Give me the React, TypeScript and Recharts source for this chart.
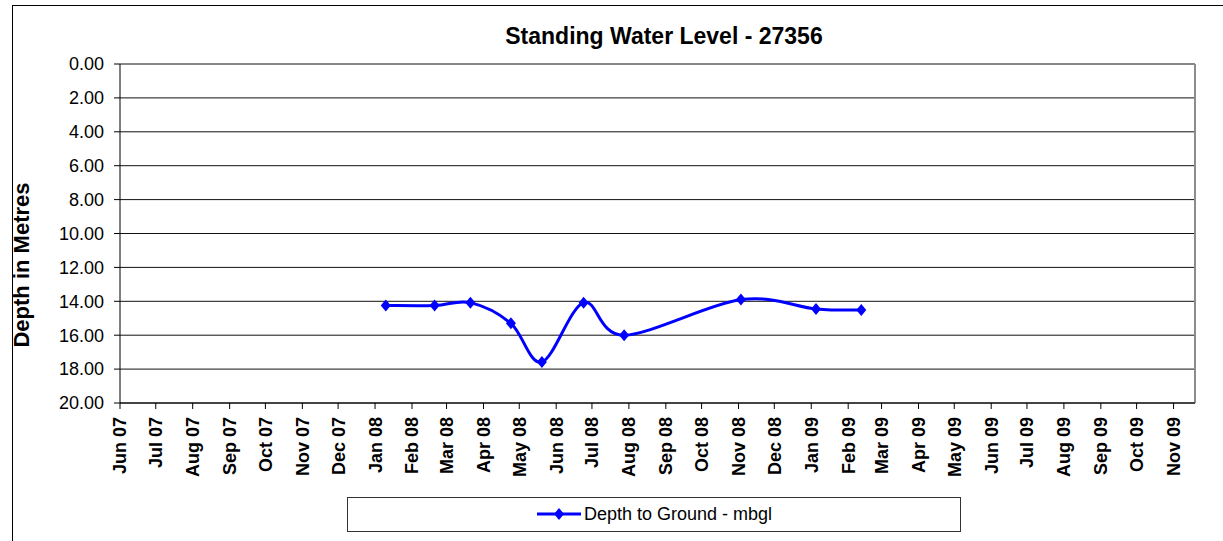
import React from 'react'
import { LineChart, Line, XAxis, YAxis, CartesianGrid, ReferenceLine } from 'recharts'

// readings (date of dip, depth below ground in metres)
const readingDates = [
  '2008-01-10', '2008-02-20', '2008-03-21', '2008-04-24', '2008-05-20',
  '2008-06-24', '2008-07-28', '2008-11-03', '2009-01-05', '2009-02-12',
]
const depthToGround = [14.25, 14.25, 14.08, 15.3, 17.58, 14.08, 16.0, 13.9, 14.45, 14.52]

const monthTickDates = [
  '2007-06-01', '2007-07-01', '2007-08-01', '2007-09-01', '2007-10-01', '2007-11-01',
  '2007-12-01', '2008-01-01', '2008-02-01', '2008-03-01', '2008-04-01', '2008-05-01',
  '2008-06-01', '2008-07-01', '2008-08-01', '2008-09-01', '2008-10-01', '2008-11-01',
  '2008-12-01', '2009-01-01', '2009-02-01', '2009-03-01', '2009-04-01', '2009-05-01',
  '2009-06-01', '2009-07-01', '2009-08-01', '2009-09-01', '2009-10-01', '2009-11-01',
]
const monthTickLabels = [
  'Jun 07', 'Jul 07', 'Aug 07', 'Sep 07', 'Oct 07', 'Nov 07',
  'Dec 07', 'Jan 08', 'Feb 08', 'Mar 08', 'Apr 08', 'May 08',
  'Jun 08', 'Jul 08', 'Aug 08', 'Sep 08', 'Oct 08', 'Nov 08',
  'Dec 08', 'Jan 09', 'Feb 09', 'Mar 09', 'Apr 09', 'May 09',
  'Jun 09', 'Jul 09', 'Aug 09', 'Sep 09', 'Oct 09', 'Nov 09',
]
const depthTicks = [0, 2, 4, 6, 8, 10, 12, 14, 16, 18, 20]

const toTime = (d: string) => Date.parse(d + 'T00:00:00Z')
const axisStart = toTime('2007-06-01')
const axisEnd = toTime('2009-11-19')
const monthTickTimes = monthTickDates.map(toTime)

const data = readingDates.map((d, i) => ({ t: toTime(d), depth: depthToGround[i] }))

const FONT = '"Liberation Sans", Arial, Helvetica, sans-serif'
const BLUE = '#0000ff'

// excel style smoothed line (catmull-rom through the points)
const excelSmooth = (context: any) => {
  let pts: number[][] = []
  return {
    areaStart() {},
    areaEnd() {},
    lineStart() {
      pts = []
    },
    point(x: number, y: number) {
      pts.push([+x, +y])
    },
    lineEnd() {
      if (!pts.length) return
      context.moveTo(pts[0][0], pts[0][1])
      for (let i = 0; i < pts.length - 1; i++) {
        const p0 = pts[Math.max(i - 1, 0)]
        const p1 = pts[i]
        const p2 = pts[i + 1]
        const p3 = pts[Math.min(i + 2, pts.length - 1)]
        context.bezierCurveTo(
          p1[0] + (p2[0] - p0[0]) / 6, p1[1] + (p2[1] - p0[1]) / 6,
          p2[0] - (p3[0] - p1[0]) / 6, p2[1] - (p3[1] - p1[1]) / 6,
          p2[0], p2[1]
        )
      }
    },
  }
}

const Diamond = (props: any) => {
  const { cx, cy, index } = props
  if (cx == null || cy == null) return null
  return (
    <polygon
      key={'d' + index}
      points={`${cx},${cy - 6} ${cx + 5},${cy} ${cx},${cy + 6} ${cx - 5},${cy}`}
      fill={BLUE}
    />
  )
}

const MonthTick = (props: any) => {
  const { x, y, payload } = props
  const idx = monthTickTimes.indexOf(payload.value)
  return (
    <text
      x={x}
      y={y}
      dx={-6}
      dy="0.36em"
      transform={`rotate(-90 ${x} ${y})`}
      textAnchor="end"
      fontFamily={FONT}
      fontSize={18}
      fontWeight="bold"
      fill="#000"
    >
      {idx >= 0 ? monthTickLabels[idx] : ''}
    </text>
  )
}

const App: React.FC = () => {
  return (
    <div
      style={{
        position: 'absolute',
        left: 0,
        top: 0,
        width: 1223,
        height: 541,
        overflow: 'hidden',
        background: '#fff',
        fontFamily: FONT,
      }}
    >
      <div
        style={{
          position: 'absolute',
          left: 12,
          top: 5,
          width: 1223 - 12,
          height: 541 - 5,
          borderLeft: '1px solid #000',
          borderTop: '1px solid #000',
        }}
      />
      <LineChart
        width={1223}
        height={541}
        data={data}
        margin={{ top: 64, right: 28, left: 0, bottom: 48 }}
        style={{ position: 'absolute', left: 0, top: 0 }}
      >
        <CartesianGrid vertical={false} stroke="#111" strokeWidth={1} />
        <XAxis
          dataKey="t"
          type="number"
          domain={[axisStart, axisEnd]}
          ticks={monthTickTimes}
          interval={0}
          height={90}
          tick={<MonthTick />}
          tickSize={6}
          stroke="#000"
          axisLine={{ stroke: '#000' }}
          tickLine={{ stroke: '#000' }}
          allowDataOverflow
        />
        <YAxis
          type="number"
          reversed
          domain={[0, 20]}
          ticks={depthTicks}
          interval={0}
          width={120}
          tickSize={6}
          tickMargin={10}
          tickFormatter={(v: number) => v.toFixed(2)}
          tick={{ fill: '#000', fontSize: 18, fontFamily: FONT }}
          axisLine={{ stroke: '#000' }}
          tickLine={{ stroke: '#000' }}
        />
        <ReferenceLine x={axisEnd} stroke="#8c8c8c" strokeWidth={2} />
        <Line
          dataKey="depth"
          type={excelSmooth as any}
          stroke={BLUE}
          strokeWidth={3}
          dot={<Diamond />}
          activeDot={false}
          isAnimationActive={false}
        />
      </LineChart>

      <div
        style={{
          position: 'absolute',
          left: 0,
          width: 1328,
          top: 25,
          textAlign: 'center',
          fontSize: 23,
          lineHeight: '23px',
          fontWeight: 'bold',
          color: '#000',
          whiteSpace: 'nowrap',
        }}
      >
        Standing Water Level - 27356
      </div>

      <div
        style={{
          position: 'absolute',
          left: 22 - 150,
          top: 265 - 12,
          width: 300,
          height: 24,
          lineHeight: '24px',
          textAlign: 'center',
          fontSize: 22,
          fontWeight: 'bold',
          color: '#000',
          transform: 'rotate(-90deg)',
          whiteSpace: 'nowrap',
        }}
      >
        Depth in Metres
      </div>

      <div
        style={{
          position: 'absolute',
          left: 347,
          top: 497,
          width: 614,
          height: 35,
          boxSizing: 'border-box',
          border: '1px solid #333',
          background: '#fff',
        }}
      >
        <svg
          width={44}
          height={14}
          style={{ position: 'absolute', left: 189, top: 9 }}
        >
          <line x1={0} y1={7} x2={44} y2={7} stroke={BLUE} strokeWidth={3} />
          <polygon points="22,1 27,7 22,13 17,7" fill={BLUE} />
        </svg>
        <div
          style={{
            position: 'absolute',
            left: 236,
            top: 0,
            height: 33,
            lineHeight: '33px',
            fontSize: 18,
            color: '#000',
            whiteSpace: 'nowrap',
          }}
        >
          Depth to Ground - mbgl
        </div>
      </div>
    </div>
  )
}

export default App
